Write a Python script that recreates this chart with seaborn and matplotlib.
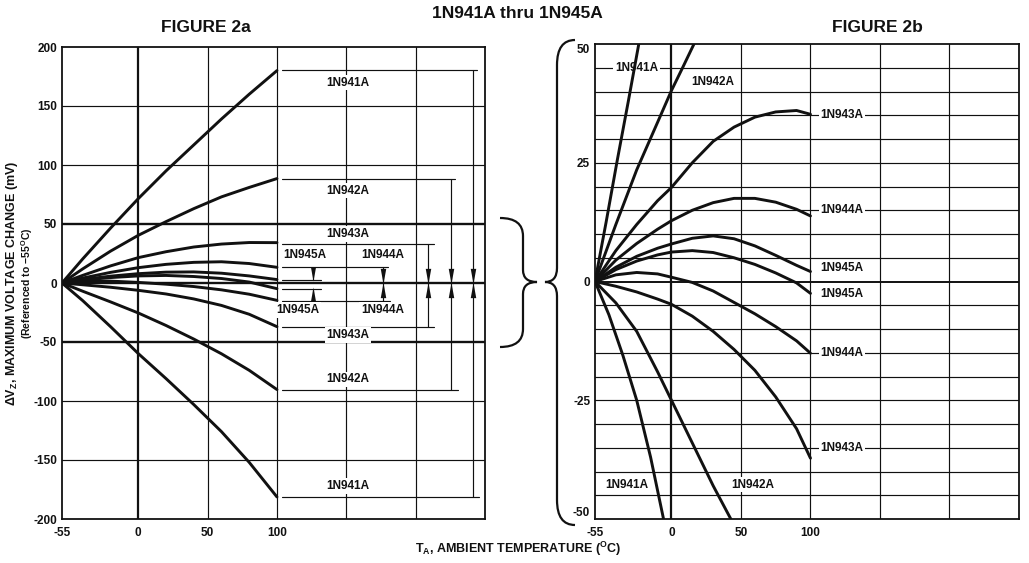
import numpy as np
import pandas as pd
import matplotlib
matplotlib.use("Agg")
import matplotlib.pyplot as plt
import seaborn as sns
from matplotlib.path import Path
from matplotlib.patches import PathPatch
from matplotlib.transforms import IdentityTransform

# ---------------------------------------------------------------- data
DEVICES = ["1N941A", "1N942A", "1N943A", "1N944A", "1N945A"]

# FIGURE 2a : full scale (mV referenced to -55 C)
TEMP_A = [-55, -40, -20, 0, 20, 40, 60, 80, 100]
A_941_HI = [0, 20.5, 46.5, 71.5, 95, 117, 139, 160, 180]
A_942_HI = [0, 12, 27, 40.4, 52, 63, 73, 81, 88.5]
A_943_HI = [0, 6.5, 14.5, 21.5, 26.5, 30.5, 33, 34.3, 34.2]
A_944_HI = [0, 4.2, 9, 13, 15.8, 17.5, 18, 16.5, 13.3]
A_945_HI = [0, 3, 5.8, 7.9, 9.2, 9.4, 8.3, 6, 2.9]
A_945_LO = [0, 2.4, 4.6, 6, 6.4, 5.5, 3.8, 0.8, -4.8]
A_944_LO = [0, 1.3, 1.6, 0.5, -1, -3, -5.8, -9.5, -14.7]
A_943_LO = [0, -1.5, -3.6, -6.2, -9.3, -13.5, -19, -26.5, -37]
A_942_LO = [0, -7, -16, -25.4, -36, -47.5, -60, -74, -90.3]
A_941_LO = [0, -15, -37, -59.8, -81, -103, -126, -152, -181.3]

# maximum excursions shown by the brackets (941 .. 945)
BRACKET_HI = [180.2, 88.5, 33.4, 13.6, 2.9]
BRACKET_LO = [-181.7, -90.3, -37.3, -15.5, -4.8]

# FIGURE 2b : expanded scale
TEMP_B = [-55, -40, -25, -10, 0, 15, 30, 45, 60, 75, 90, 100]
B_943_HI = [0, 6.5, 12, 17, 19.8, 25, 29.5, 32.5, 34.6, 35.7, 36, 35.2]
B_944_HI = [0, 4.5, 8, 11, 12.8, 15, 16.6, 17.5, 17.5, 16.7, 15.2, 13.8]
B_945_HI = [0, 3, 5.3, 7, 7.9, 9.1, 9.6, 9.0, 7.5, 5.5, 3.4, 2.1]
B_945_LO = [0, 2.5, 4.3, 5.6, 6.2, 6.5, 6.1, 5.0, 3.6, 1.8, -0.3, -2.5]
B_944_LO = [0, 1.4, 1.9, 1.6, 0.9, -0.2, -2.0, -4.4, -6.8, -9.5, -12.5, -15.1]
B_943_LO = [0, -1.0, -2.2, -3.7, -4.8, -7.3, -10.5, -14.3, -18.7, -24.3, -31, -37.2]
B_942_HI_T = [-55, -40, -25, -10, 0, 8, 16.2]
B_942_HI = [0, 12, 23.5, 33.5, 40.2, 45, 50]
B_941_HI_T = [-55, -47, -39, -31, -23.5]
B_941_HI = [0, 12.5, 25.5, 38, 50]
B_942_LO_T = [-55, -40, -25, -10, 0, 15, 30, 42.7]
B_942_LO = [0, -4.5, -10.5, -19, -25, -34, -43, -50]
B_941_LO_T = [-55, -45, -35, -25, -15, -5.7]
B_941_LO = [0, -7, -15.5, -25, -37, -50]

X_TICKS = [-55, 0, 50, 100]
A_Y_TICKS = [-200, -150, -100, -50, 0, 50, 100, 150, 200]
B_Y_TICKS = [-50, -25, 0, 25, 50]

# ---------------------------------------------------------------- frames
def frame(curves):
    rows = []
    for name, (ts, vs) in curves.items():
        for t, v in zip(ts, vs):
            rows.append((name, t, v))
    return pd.DataFrame(rows, columns=["curve", "T", "V"])

df_a = frame({
    "941hi": (TEMP_A, A_941_HI), "942hi": (TEMP_A, A_942_HI),
    "943hi": (TEMP_A, A_943_HI), "944hi": (TEMP_A, A_944_HI),
    "945hi": (TEMP_A, A_945_HI), "945lo": (TEMP_A, A_945_LO),
    "944lo": (TEMP_A, A_944_LO), "943lo": (TEMP_A, A_943_LO),
    "942lo": (TEMP_A, A_942_LO), "941lo": (TEMP_A, A_941_LO),
})
df_b = frame({
    "941hi": (B_941_HI_T, B_941_HI), "942hi": (B_942_HI_T, B_942_HI),
    "943hi": (TEMP_B, B_943_HI), "944hi": (TEMP_B, B_944_HI),
    "945hi": (TEMP_B, B_945_HI), "945lo": (TEMP_B, B_945_LO),
    "944lo": (TEMP_B, B_944_LO), "943lo": (TEMP_B, B_943_LO),
    "942lo": (B_942_LO_T, B_942_LO), "941lo": (B_941_LO_T, B_941_LO),
})

# ---------------------------------------------------------------- style
sns.set_style("white")
plt.rcParams["font.family"] = ["Liberation Sans", "DejaVu Sans"]
plt.rcParams["font.weight"] = "bold"
plt.rcParams["mathtext.fontset"] = "custom"
plt.rcParams["mathtext.rm"] = "Liberation Sans:bold"
plt.rcParams["mathtext.bf"] = "Liberation Sans:bold"
plt.rcParams["mathtext.it"] = "Liberation Sans:bold"
plt.rcParams["mathtext.default"] = "bf"

W, H = 1029, 563
fig = plt.figure(figsize=(W / 100, H / 100), dpi=100)
fig.patch.set_facecolor("white")

ax_a = fig.add_axes([62 / W, (H - 519) / H, 423 / W, 472 / H])
ax_b = fig.add_axes([595 / W, (H - 519) / H, 424 / W, 475 / H])

INK = "#111111"
TXT = dict(fontsize=8.5, fontweight="bold", color=INK)
BOX = dict(facecolor="white", edgecolor="none", pad=1.2)

for ax in (ax_a, ax_b):
    ax.set_xlim(-55, 250)
    for s in ax.spines.values():
        s.set_visible(True)
        s.set_color(INK)
        s.set_linewidth(1.3)
    for gx in [0, 50, 100, 150, 200]:
        ax.axvline(gx, color=INK, lw=1.6 if gx == 0 else 0.85, zorder=1)
    ax.set_xticks(X_TICKS)
    ax.set_xticklabels([str(v) for v in X_TICKS])
    ax.tick_params(axis="both", length=0, labelsize=8.5, colors=INK)
    ax.tick_params(axis="x", pad=5.5)
    ax.tick_params(axis="y", pad=3.5)
    for lab in ax.get_xticklabels() + ax.get_yticklabels():
        lab.set_fontweight("bold")

# ------------------------------------------------ FIGURE 2a
ax_a.set_ylim(-200, 200)
for gy in A_Y_TICKS[1:-1]:
    thick = gy in (-50, 0, 50)
    ax_a.axhline(gy, color=INK, lw=1.7 if thick else 0.85, zorder=1)
ax_a.set_yticks(A_Y_TICKS)
ax_a.set_yticklabels([str(v) for v in A_Y_TICKS], fontweight="bold")
sns.lineplot(data=df_a, x="T", y="V", units="curve", estimator=None,
             sort=False, color=INK, lw=2.1, ax=ax_a, zorder=4)

# brackets (positions in axis temperature units)
arrow_x = [241.3, 225.5, 208.9, 176.2, 126.2]
end_hi = [244.2, 228.3, 213.4, 180.3, 132.0]
end_lo = [245.6, 230.5, 213.4, 181.5, 132.0]
start_x = 103.6
tri_down = [(-0.36, 1.0), (0.36, 1.0), (0.0, -1.0), (-0.36, 1.0)]
tri_up = [(-0.36, -1.0), (0.36, -1.0), (0.0, 1.0), (-0.36, -1.0)]
tri_off = 5.6  # mV, half height of the arrow heads on the 2a scale
for i in range(5):
    hi, lo = BRACKET_HI[i], BRACKET_LO[i]
    ax_a.plot([start_x, end_hi[i]], [hi, hi], color=INK, lw=0.85, zorder=3)
    ax_a.plot([start_x, end_lo[i]], [lo, lo], color=INK, lw=0.85, zorder=3)
    if i < 4:
        ax_a.plot([arrow_x[i], arrow_x[i]], [hi, lo], color=INK, lw=0.85, zorder=3)
        ax_a.plot([arrow_x[i]], [tri_off], marker=tri_down, ms=11, color=INK,
                  mec="none", zorder=5)
        ax_a.plot([arrow_x[i]], [-tri_off], marker=tri_up, ms=11, color=INK,
                  mec="none", zorder=5)
    else:
        ax_a.plot([arrow_x[i], arrow_x[i]], [BRACKET_HI[3], hi], color=INK, lw=0.85, zorder=3)
        ax_a.plot([arrow_x[i], arrow_x[i]], [BRACKET_LO[3], lo], color=INK, lw=0.85, zorder=3)
        ax_a.plot([arrow_x[i]], [hi + 4.6], marker=tri_down, ms=10, color=INK,
                  mec="none", zorder=5)
        ax_a.plot([arrow_x[i]], [lo - 4.6], marker=tri_up, ms=10, color=INK,
                  mec="none", zorder=5)

a_labels = [
    ("1N941A", 151, 169.7), ("1N941A", 151, -172.0),
    ("1N942A", 151, 78.2), ("1N942A", 151, -81.6),
    ("1N943A", 151, 41.5), ("1N943A", 151, -44.0),
    ("1N944A", 176, 23.7), ("1N944A", 176, -22.9),
    ("1N945A", 120, 23.7), ("1N945A", 115, -22.9),
]
for txt, x, y in a_labels:
    ax_a.text(x, y, txt, ha="center", va="center", bbox=BOX, zorder=3.5, **TXT)

# ------------------------------------------------ FIGURE 2b
ax_b.set_ylim(-50, 50)
for gy in range(-45, 50, 5):
    ax_b.axhline(gy, color=INK, lw=1.4 if gy == 0 else 0.85, zorder=1)
ax_b.set_yticks(B_Y_TICKS)
ax_b.set_yticklabels([str(v) for v in B_Y_TICKS], fontweight="bold")
ylabs = ax_b.get_yticklabels()
ylabs[0].set_va("bottom")
ylabs[-1].set_va("top")
sns.lineplot(data=df_b, x="T", y="V", units="curve", estimator=None,
             sort=False, color=INK, lw=2.1, ax=ax_b, zorder=4)

b_labels = [
    ("1N941A", -25, 45), ("1N942A", 30, 42.1),
    ("1N943A", 122.5, 35), ("1N944A", 122.5, 15),
    ("1N945A", 122.5, 2.8), ("1N945A", 122.5, -2.6),
    ("1N944A", 122.5, -15), ("1N943A", 122.5, -35),
    ("1N941A", -32.2, -42.8), ("1N942A", 58.8, -42.8),
]
for txt, x, y in b_labels:
    ax_b.text(x, y, txt, ha="center", va="center", bbox=BOX, zorder=3.5, **TXT)

for ax in (ax_a, ax_b):
    ax.set_xlabel("")
    ax.set_ylabel("")
    leg = ax.get_legend()
    if leg:
        leg.remove()

# ------------------------------------------------ titles and axis texts
def ftext(px, py, s, **kw):
    fig.text(px / W, 1 - py / H, s, **kw)

ftext(517, 13, "1N941A thru 1N945A", ha="center", va="center",
      fontsize=12.5, fontweight="bold", color=INK)
ftext(206, 28, "FIGURE 2a", ha="center", va="center",
      fontsize=12.5, fontweight="bold", color=INK)
ftext(877, 27, "FIGURE 2b", ha="center", va="center",
      fontsize=12.5, fontweight="bold", color=INK)
ftext(12, 283, "ΔV$_{Z}$, MAXIMUM VOLTAGE CHANGE (mV)", ha="center",
      va="center", rotation=90, fontsize=9, fontweight="bold", color=INK)
ftext(27, 283, "(Referenced to \u221255$^{O}$C)", ha="center", va="center",
      rotation=90, fontsize=7.5, fontweight="bold", color=INK)
ftext(518, 549, "T$_{A}$, AMBIENT TEMPERATURE ($^{O}$C)", ha="center",
      va="center", fontsize=9, fontweight="bold", color=INK)

# ------------------------------------------------ braces
def brace(x_end, x_spine, x_tip, y_top, y_mid, y_bot, r, r2):
    pts = [(x_end, y_top), (x_spine, y_top), (x_spine, y_top + r),
           (x_spine, y_mid - r2), (x_spine, y_mid), (x_tip, y_mid),
           (x_spine, y_mid), (x_spine, y_mid + r2),
           (x_spine, y_bot - r), (x_spine, y_bot), (x_end, y_bot)]
    codes = [Path.MOVETO, Path.CURVE3, Path.CURVE3, Path.LINETO,
             Path.CURVE3, Path.CURVE3, Path.CURVE3, Path.CURVE3,
             Path.LINETO, Path.CURVE3, Path.CURVE3]
    disp = [(x, H - y) for x, y in pts]
    patch = PathPatch(Path(disp, codes), facecolor="none", edgecolor=INK,
                      lw=1.6, transform=IdentityTransform())
    fig.patches.append(patch)

brace(500, 523, 537, 218, 282, 347, 18, 12)
brace(575, 557, 545, 40, 282, 525, 25, 14)

fig.savefig("out.png", dpi=100, facecolor="white")
